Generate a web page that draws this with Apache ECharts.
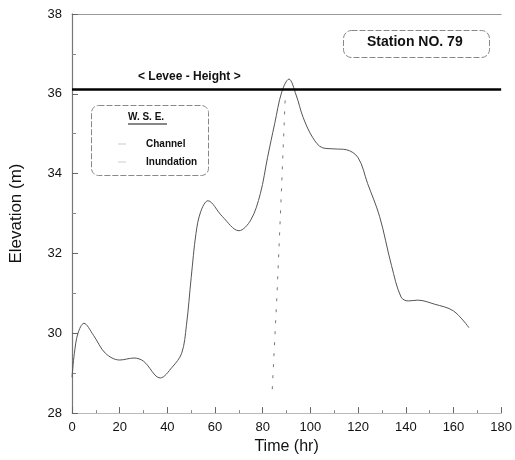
<!DOCTYPE html>
<html>
<head>
<meta charset="utf-8">
<script src="https://cdn.jsdelivr.net/npm/echarts@6/dist/echarts.min.js"></script>
<style>
  html, body { margin: 0; padding: 0; background: #fff; }
  #chart { width: 515px; height: 460px; }
</style>
</head>
<body>
<div id="chart"></div>
<script>
// Water surface elevation at station 79
const timeHr = [0, 1, 2.5, 5, 9, 14, 20, 26, 30, 37, 42, 46, 48, 50, 52, 54, 57, 63, 70, 75, 79, 82, 85, 88, 91, 94, 97, 101, 105, 110, 115, 120, 124, 129, 134, 138, 141, 145, 152, 160, 166.5];
const channelWse = [28.9, 29.5, 30.0, 30.25, 29.95, 29.5, 29.33, 29.38, 29.3, 28.88, 29.15, 29.5, 30.2, 31.4, 32.5, 33.05, 33.32, 32.93, 32.57, 32.84, 33.5, 34.4, 35.25, 36.05, 36.37, 35.97, 35.4, 34.9, 34.65, 34.62, 34.6, 34.4, 33.75, 32.93, 31.7, 30.91, 30.81, 30.83, 30.73, 30.56, 30.14];

const inundTime = [84, 86, 88, 89.5];
const inundWse = [28.6, 31.0, 33.8, 36.0];

const leveeHeight = 36.12;
const xTicks = { min: 0, max: 180, step: 20 };
const yTicks = { min: 28, max: 38, step: 2 };

const chart = echarts.init(document.getElementById('chart'));
const font = 'Liberation Sans, Arial, sans-serif';

chart.setOption({
  animation: false,
  backgroundColor: '#fff',
  grid: { left: 72, right: 13, top: 14, bottom: 40 },
  xAxis: [{
    type: 'value', min: xTicks.min, max: xTicks.max, interval: xTicks.step,
    name: 'Time (hr)', nameLocation: 'middle', nameGap: 24,
    nameTextStyle: { fontFamily: font, fontSize: 16, color: '#111' },
    axisLine: { show: true, lineStyle: { color: '#bbb', width: 1 } },
    axisTick: { show: true, inside: true, length: 6, lineStyle: { color: '#666' } },
    minorTick: { show: true, splitNumber: 2, length: 3, lineStyle: { color: '#888' } },
    axisLabel: { fontFamily: font, fontSize: 13, color: '#111', margin: 8 },
    splitLine: { show: false }
  }, {
    type: 'value', position: 'top', min: xTicks.min, max: xTicks.max,
    axisLine: { show: true, lineStyle: { color: '#999', width: 1 } },
    axisTick: { show: false }, axisLabel: { show: false }, splitLine: { show: false }
  }],
  yAxis: [{
    type: 'value', min: yTicks.min, max: yTicks.max, interval: yTicks.step,
    name: 'Elevation (m)', nameLocation: 'middle', nameGap: 47,
    nameTextStyle: { fontFamily: font, fontSize: 17, color: '#111' },
    axisLine: { show: true, lineStyle: { color: '#aaa', width: 1 } },
    axisTick: { show: true, inside: true, length: 6, lineStyle: { color: '#666' } },
    minorTick: { show: true, splitNumber: 2, length: 4, lineStyle: { color: '#888' } },
    axisLabel: { fontFamily: font, fontSize: 13, color: '#111', margin: 10 },
    splitLine: { show: false }
  }, {
    type: 'value', position: 'right', min: yTicks.min, max: yTicks.max,
    axisLine: { show: true, lineStyle: { color: '#777', width: 1.2 } },
    axisTick: { show: false }, axisLabel: { show: false }, splitLine: { show: false }
  }],
  legend: {
    show: true,
    orient: 'vertical', left: 113, top: 134, itemGap: 8,
    itemWidth: 8, itemHeight: 1,
    icon: 'rect',
    textStyle: { fontFamily: font, fontSize: 10, fontWeight: 'bold', color: '#111', padding: [0, 0, 0, 15] },
    data: [
      { name: 'Channel', itemStyle: { color: '#ccc' } },
      { name: 'Inundation', itemStyle: { color: '#ccc' } }
    ]
  },
  series: [{
    name: 'Channel', type: 'line', smooth: 0.35, symbol: 'none',
    lineStyle: { color: '#555', width: 1 }, itemStyle: { color: '#ccc' },
    data: timeHr.map((t, i) => [t, channelWse[i]]),
    markLine: {
      silent: true, symbol: 'none',
      lineStyle: { color: '#000', width: 2.5, type: 'solid' },
      label: { show: false },
      data: [{ yAxis: leveeHeight }]
    }
  }, {
    name: 'Inundation', type: 'line', smooth: false, symbol: 'none',
    lineStyle: { color: '#777', width: 1, type: [3, 8] }, itemStyle: { color: '#ccc' },
    data: inundTime.map((t, i) => [t, inundWse[i]])
  }],
  graphic: [
    { type: 'text', left: 138, top: 71,
      style: { text: '< Levee - Height >', font: 'bold 12px ' + font, fill: '#111' } },
    { type: 'rect', left: 341, top: 28,
      shape: { width: 146, height: 27, r: 8 },
      style: { fill: 'none', stroke: '#888', lineWidth: 1, lineDash: [6, 2] } },
    { type: 'text', left: 367, top: 35,
      style: { text: 'Station NO. 79', font: 'bold 14px ' + font, fill: '#111' } },
    { type: 'rect', left: 89, top: 103,
      shape: { width: 117, height: 70, r: 7 },
      style: { fill: 'none', stroke: '#888', lineWidth: 1, lineDash: [6, 2] } },
    { type: 'text', left: 128, top: 112,
      style: { text: 'W. S. E.', font: 'bold 10px ' + font, fill: '#111' } },
    { type: 'line', shape: { x1: 128, y1: 124, x2: 167, y2: 124 },
      style: { stroke: '#111', lineWidth: 1 } }
  ]
});
</script>
</body>
</html>
